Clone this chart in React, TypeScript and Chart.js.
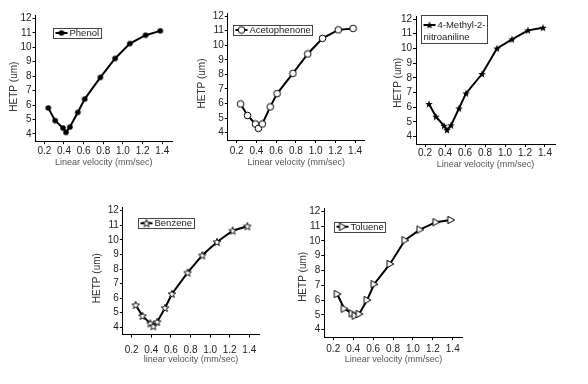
import React, { useEffect, useRef } from "react";
import { Chart, registerables } from "chart.js";

Chart.register(...registerables);

// ---------- data ----------
const velocity = [0.24, 0.31, 0.39, 0.42, 0.46, 0.54, 0.61, 0.77, 0.92, 1.07, 1.23, 1.38];
const phenolHETP = [5.8, 4.92, 4.41, 4.11, 4.48, 5.49, 6.41, 7.91, 9.22, 10.25, 10.83, 11.13];
const acetophenoneHETP = [5.97, 5.18, 4.6, 4.3, 4.6, 5.77, 6.68, 8.07, 9.4, 10.47, 11.05, 11.15];
const methylNitroanilineHETP = [6.22, 5.36, 4.74, 4.45, 4.77, 5.92, 6.94, 8.26, 10.0, 10.62, 11.23, 11.41];
const benzeneHETP = [5.53, 4.78, 4.27, 4.07, 4.37, 5.33, 6.29, 7.75, 8.94, 9.85, 10.63, 10.93];
const tolueneHETP = [6.41, 5.42, 5.1, 4.95, 5.06, 6.0, 7.07, 8.44, 10.04, 10.76, 11.26, 11.41];

const xTickValues = [0.2, 0.4, 0.6, 0.8, 1.0, 1.2, 1.4];
const yTickValues = [4, 5, 6, 7, 8, 9, 10, 11, 12];
const X_MIN = 0.11;
const X_MAX = 1.5;
const Y_MIN = 3.5;
const Y_MAX = 12.2;

const FONT = '"Liberation Sans", Arial, sans-serif';

type MarkerKind = "dot" | "circle" | "starFilled" | "starOpen" | "triRight";

function starPath(ctx: CanvasRenderingContext2D, cx: number, cy: number, R: number, r: number) {
  ctx.beginPath();
  for (let i = 0; i < 10; i++) {
    const a = -Math.PI / 2 + (i * Math.PI) / 5;
    const rad = i % 2 === 0 ? R : r;
    const px = cx + rad * Math.cos(a);
    const py = cy + rad * Math.sin(a);
    if (i === 0) ctx.moveTo(px, py);
    else ctx.lineTo(px, py);
  }
  ctx.closePath();
}

function makeMarker(kind: MarkerKind): HTMLCanvasElement {
  const c = document.createElement("canvas");
  const size = kind === "dot" ? 8 : kind === "circle" ? 9 : 10;
  c.width = size;
  c.height = size;
  const ctx = c.getContext("2d")!;
  const m = size / 2;
  ctx.lineWidth = 1;
  ctx.strokeStyle = "#000";
  if (kind === "dot") {
    ctx.fillStyle = "#000";
    ctx.beginPath();
    ctx.arc(m, m, 2.8, 0, Math.PI * 2);
    ctx.fill();
  } else if (kind === "circle") {
    ctx.fillStyle = "#fff";
    ctx.beginPath();
    ctx.arc(m, m, 3.3, 0, Math.PI * 2);
    ctx.fill();
    ctx.stroke();
  } else if (kind === "starFilled") {
    ctx.fillStyle = "#000";
    starPath(ctx, m, m + 0.3, 4, 1.7);
    ctx.fill();
  } else if (kind === "starOpen") {
    ctx.fillStyle = "#fff";
    starPath(ctx, m, m + 0.3, 4, 1.7);
    ctx.fill();
    ctx.lineWidth = 0.9;
    ctx.stroke();
  } else {
    ctx.fillStyle = "#fff";
    ctx.beginPath();
    ctx.moveTo(m - 3, m - 3.7);
    ctx.lineTo(m - 3, m + 3.7);
    ctx.lineTo(m + 3.8, m);
    ctx.closePath();
    ctx.fill();
    ctx.stroke();
  }
  return c;
}

type PanelCfg = {
  values: number[];
  marker: MarkerKind;
  legendRows: { text: string; dy: number; sample: boolean }[];
  legendBox: { x: number; y: number; h: number };
  xTitle: string;
  plot: { left: number; top: number; right: number; bottom: number };
  yTitleX: number;
  yTitleDown: number;
  xTitleY: number;
  xLabelY: number;
};

const panels: PanelCfg[] = [
  {
    values: phenolHETP,
    marker: "dot",
    legendRows: [{ text: "Phenol", dy: 5, sample: true }],
    legendBox: { x: 53, y: 28, h: 10 },
    xTitle: "Linear velocity (mm/sec)",
    plot: { left: 35.5, top: 15.4, right: 172.1, bottom: 141.2 },
    yTitleX: 14,
    yTitleDown: 8,
    xTitleY: 163,
    xLabelY: 151.7,
  },
  {
    values: acetophenoneHETP,
    marker: "circle",
    legendRows: [{ text: "Acetophenone", dy: 5, sample: true }],
    legendBox: { x: 233, y: 25, h: 10 },
    xTitle: "Linear velocity (mm/sec)",
    plot: { left: 227.8, top: 13.1, right: 364.9, bottom: 140 },
    yTitleX: 202,
    yTitleDown: 6.5,
    xTitleY: 163,
    xLabelY: 151.7,
  },
  {
    values: methylNitroanilineHETP,
    marker: "starFilled",
    legendRows: [
      { text: "4-Methyl-2-", dy: 10, sample: true },
      { text: "nitroaniline", dy: 21.7, sample: false },
    ],
    legendBox: { x: 421, y: 15, h: 28 },
    xTitle: "Linear velocity (mm/sec)",
    plot: { left: 416, top: 16.1, right: 555, bottom: 144 },
    yTitleX: 398,
    yTitleDown: 2.5,
    xTitleY: 165,
    xLabelY: 153.3,
  },
  {
    values: benzeneHETP,
    marker: "starOpen",
    legendRows: [{ text: "Benzene", dy: 5, sample: true }],
    legendBox: { x: 138, y: 218.3, h: 10 },
    xTitle: "linear velocity (mm/sec)",
    plot: { left: 122.9, top: 207.8, right: 259.1, bottom: 334.6 },
    yTitleX: 97,
    yTitleDown: 7,
    xTitleY: 359.3,
    xLabelY: 350,
  },
  {
    values: tolueneHETP,
    marker: "triRight",
    legendRows: [{ text: "Toluene", dy: 5, sample: true }],
    legendBox: { x: 334, y: 221.7, h: 10 },
    xTitle: "Linear velocity (mm/sec)",
    plot: { left: 324.3, top: 208.3, right: 462.7, bottom: 337.1 },
    yTitleX: 303,
    yTitleDown: 4,
    xTitleY: 359.3,
    xLabelY: 349,
  },
];

const boxLegend = {
  id: "boxLegend",
  afterDraw(chart: any, _args: any, opts: any) {
    if (!opts || !opts.rows) return;
    const ctx: CanvasRenderingContext2D = chart.ctx;
    ctx.save();
    ctx.font = `9.5px ${FONT}`;
    const sampleW = 12;
    const widths = opts.rows.map(
      (r: any) => ctx.measureText(r.text).width + (r.sample ? sampleW + 3 : 2) + 3
    );
    const w = Math.round(Math.max(...widths));
    const x0 = Math.round(opts.x) + 0.5;
    const y0 = Math.round(opts.y) + 0.5;
    ctx.fillStyle = "#fff";
    ctx.fillRect(x0, y0, w, opts.h);
    ctx.strokeStyle = "#444";
    ctx.lineWidth = 1;
    ctx.strokeRect(x0, y0, w, opts.h);
    ctx.textBaseline = "middle";
    ctx.textAlign = "left";
    for (const r of opts.rows) {
      const cy = opts.y + r.dy;
      let tx = x0 + 2;
      if (r.sample) {
        ctx.strokeStyle = "#000";
        ctx.lineWidth = 2;
        ctx.beginPath();
        ctx.moveTo(x0 + 2, cy);
        ctx.lineTo(x0 + 2 + sampleW, cy);
        ctx.stroke();
        const mk: HTMLCanvasElement = opts.marker;
        ctx.drawImage(mk, x0 + 2 + sampleW / 2 - mk.width / 2, cy - mk.height / 2);
        tx = x0 + 2 + sampleW + 2;
      }
      ctx.fillStyle = "#222";
      ctx.fillText(r.text, tx, cy + 0.5);
    }
    ctx.restore();
  },
};

const Y_W = 40;
const X_H = 32;
const PAD_T = 8;
const PAD_R = 8;

function placement(p: PanelCfg) {
  const canvasLeft = Math.floor(p.plot.left - Y_W);
  const canvasTop = Math.floor(p.plot.top - PAD_T);
  const width = Math.ceil(p.plot.right + PAD_R) - canvasLeft;
  const height = Math.ceil(p.plot.bottom + X_H + 1) - canvasTop;
  return {
    canvasLeft,
    canvasTop,
    width,
    height,
    padL: p.plot.left - Y_W - canvasLeft,
    padT: p.plot.top - canvasTop,
    padR: canvasLeft + width - p.plot.right,
    padB: canvasTop + height - (p.plot.bottom + X_H),
  };
}

function Panel({ p }: { p: PanelCfg }) {
  const ref = useRef<HTMLCanvasElement>(null);
  const pl = placement(p);

  useEffect(() => {
    if (!ref.current) return;
    const marker = makeMarker(p.marker);
    const yTitlePad = p.yTitleX - pl.canvasLeft - pl.padL - 6;
    const xTitlePad = p.plot.bottom + X_H - p.xTitleY - 5.4;
    const xTickPad = p.xLabelY - p.plot.bottom - 3 - 6;
    // trailing spaces push the rotated title down (each space ~2.78px at 10px)
    const yTitleText = "HETP (um)" + " ".repeat(Math.max(0, Math.round((p.yTitleDown * 2) / 2.78)));

    const chart = new Chart(ref.current, {
      type: "line",
      data: {
        datasets: [
          {
            data: velocity.map((x, i) => ({ x, y: p.values[i] })),
            borderColor: "#000",
            borderWidth: 2,
            pointStyle: marker as any,
            pointRadius: 4,
            pointHoverRadius: 4,
            tension: 0,
            fill: false,
          } as any,
        ],
      },
      options: {
        responsive: false,
        animation: false,
        devicePixelRatio: 1,
        events: [],
        layout: { padding: { left: pl.padL, top: pl.padT, right: pl.padR, bottom: pl.padB } },
        plugins: {
          legend: { display: false },
          tooltip: { enabled: false },
          boxLegend: {
            rows: p.legendRows,
            x: p.legendBox.x - pl.canvasLeft,
            y: p.legendBox.y - pl.canvasTop,
            h: p.legendBox.h,
            marker,
          },
        } as any,
        scales: {
          x: {
            type: "linear",
            min: X_MIN,
            max: X_MAX,
            afterBuildTicks: (s: any) => {
              s.ticks = xTickValues.map((v) => ({ value: v }));
            },
            afterFit: (s: any) => {
              s.height = X_H;
            },
            grid: { drawOnChartArea: false, drawTicks: true, tickLength: 3, color: "#000" },
            border: { display: true, color: "#000", width: 1 },
            ticks: {
              font: { family: FONT, size: 10 },
              color: "#222",
              padding: Math.max(0, xTickPad),
              maxRotation: 0,
              autoSkip: false,
              callback: (v: any) => Number(v).toFixed(1),
            },
            title: {
              display: true,
              text: p.xTitle,
              font: { family: FONT, size: 9 },
              color: "#555",
              padding: { top: 0, bottom: Math.max(0, xTitlePad) },
            },
          },
          y: {
            type: "linear",
            min: Y_MIN,
            max: Y_MAX,
            afterBuildTicks: (s: any) => {
              s.ticks = yTickValues.map((v) => ({ value: v }));
            },
            afterFit: (s: any) => {
              s.width = Y_W;
            },
            grid: { drawOnChartArea: false, drawTicks: true, tickLength: 3, color: "#000" },
            border: { display: true, color: "#000", width: 1 },
            ticks: {
              font: { family: FONT, size: 10 },
              color: "#222",
              padding: 1,
              autoSkip: false,
              callback: (v: any) => String(v),
            },
            title: {
              display: true,
              text: yTitleText,
              font: { family: FONT, size: 10 },
              color: "#333",
              padding: { top: Math.max(0, yTitlePad), bottom: 0 },
            },
          },
        },
      },
      plugins: [boxLegend as any],
    });
    return () => chart.destroy();
  }, []);

  return (
    <canvas
      ref={ref}
      width={pl.width}
      height={pl.height}
      style={{
        position: "absolute",
        left: pl.canvasLeft,
        top: pl.canvasTop,
        width: pl.width,
        height: pl.height,
      }}
    />
  );
}

export default function App() {
  return (
    <div
      style={{
        position: "absolute",
        left: 0,
        top: 0,
        width: 588,
        height: 384,
        background: "#fff",
        overflow: "hidden",
      }}
    >
      {panels.map((p, i) => (
        <Panel key={i} p={p} />
      ))}
    </div>
  );
}
